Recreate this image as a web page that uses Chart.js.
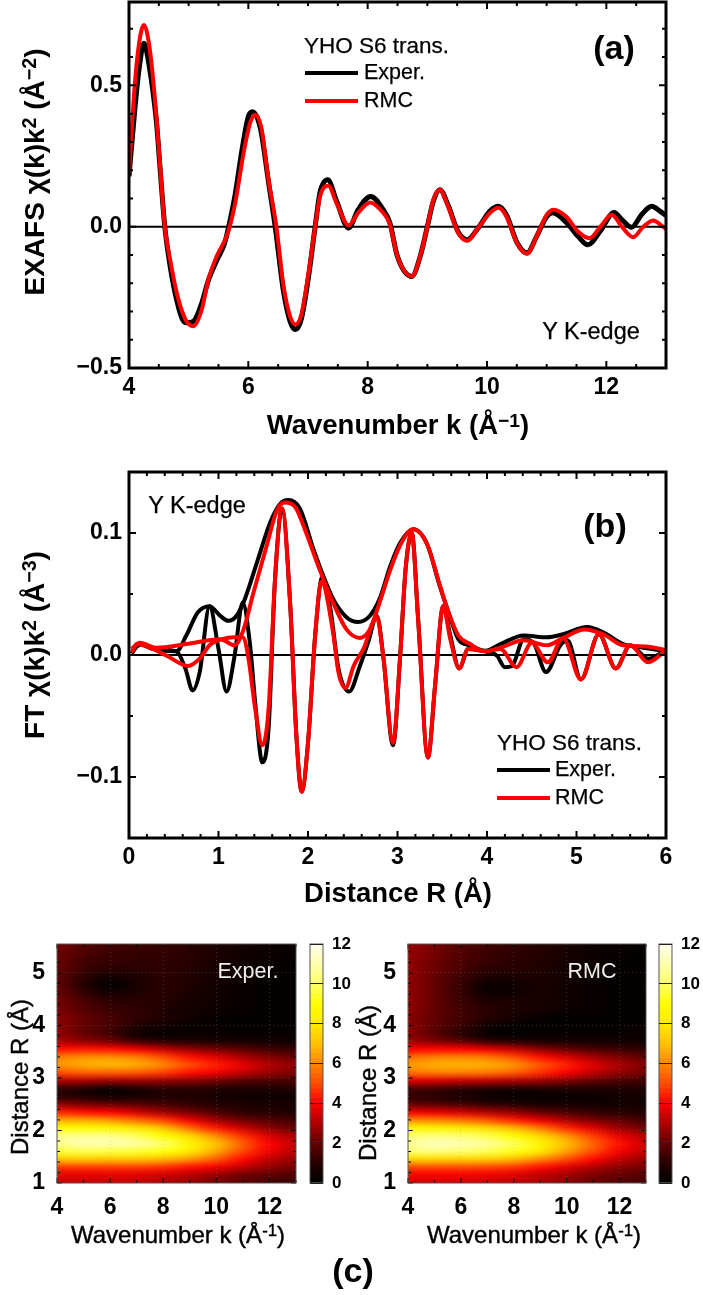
<!DOCTYPE html>
<html>
<head>
<meta charset="utf-8">
<title>YHO S6 EXAFS</title>
<script src="https://cdn.jsdelivr.net/npm/chart.js@4"></script>
<style>
  html, body { margin: 0; padding: 0; background: #fff; }
  #page { position: relative; width: 703px; height: 1295px; overflow: hidden; font-family: "Liberation Sans", sans-serif; color: #000; }
  #page canvas { position: absolute; }
  .txt { position: absolute; white-space: nowrap; line-height: 1; }
  .txt sup { font-size: 0.7em; line-height: 0; vertical-align: 0.4em; }
  .swatch { position: absolute; height: 4px; }
</style>
</head>
<body>
<div id="page"></div>
<script>
// (a) EXAFS
const exafsKExper = [4, 4.1, 4.17, 4.25, 4.33, 4.46, 4.53, 4.6, 4.69, 4.8, 4.9, 4.97, 5.08, 5.22, 5.33, 5.47, 5.6, 5.66, 5.78, 5.9, 6, 6.07, 6.15, 6.22, 6.33, 6.45, 6.59, 6.7, 6.79, 6.89, 7, 7.12, 7.2, 7.33, 7.48, 7.68, 7.84, 8.05, 8.26, 8.37, 8.5, 8.74, 8.88, 9, 9.1, 9.21, 9.35, 9.52, 9.67, 9.85, 10.05, 10.19, 10.33, 10.5, 10.67, 10.83, 11, 11.1, 11.33, 11.53, 11.69, 11.9, 12.13, 12.26, 12.42, 12.6, 12.76, 12.9, 13];
const exafsExper = [0.178, 0.42, 0.56, 0.649, 0.58, 0.37, 0.18, 0, -0.14, -0.26, -0.33, -0.34, -0.335, -0.27, -0.19, -0.12, -0.06, -0.01, 0.115, 0.28, 0.39, 0.407, 0.385, 0.33, 0.17, 0, -0.23, -0.335, -0.364, -0.325, -0.19, 0, 0.12, 0.166, 0.09, -0.005, 0.06, 0.107, 0.06, 0.015, -0.106, -0.176, -0.105, 0, 0.09, 0.131, 0.075, -0.02, -0.046, -0.005, 0.055, 0.072, 0.04, -0.055, -0.093, -0.035, 0.035, 0.049, 0.015, -0.035, -0.064, -0.015, 0.05, 0.025, -0.002, 0.045, 0.072, 0.055, 0.039];
const exafsKRmc = [4, 4.1, 4.17, 4.25, 4.35, 4.46, 4.53, 4.6, 4.69, 4.8, 4.95, 5.08, 5.22, 5.33, 5.47, 5.66, 5.78, 5.92, 6.03, 6.12, 6.22, 6.33, 6.47, 6.59, 6.7, 6.79, 6.89, 7, 7.12, 7.2, 7.34, 7.48, 7.68, 7.84, 8.04, 8.26, 8.37, 8.5, 8.74, 8.88, 9, 9.1, 9.21, 9.35, 9.52, 9.67, 9.85, 10.05, 10.19, 10.33, 10.5, 10.67, 10.83, 11, 11.12, 11.33, 11.53, 11.72, 11.9, 12.09, 12.26, 12.45, 12.62, 12.79, 12.92, 13];
const exafsRmc = [0.19, 0.51, 0.65, 0.714, 0.625, 0.39, 0.19, 0, -0.117, -0.234, -0.33, -0.352, -0.293, -0.187, -0.105, -0.02, 0.083, 0.26, 0.367, 0.396, 0.349, 0.177, 0, -0.21, -0.317, -0.346, -0.31, -0.176, 0, 0.106, 0.145, 0.083, 0.005, 0.049, 0.086, 0.049, 0.01, -0.106, -0.176, -0.105, 0, 0.095, 0.131, 0.071, -0.022, -0.05, -0.005, 0.049, 0.067, 0.035, -0.057, -0.096, -0.035, 0.042, 0.06, 0.035, -0.018, -0.041, 0, 0.042, 0, -0.037, 0, 0.022, 0.005, -0.008];

// (b) FT, magnitude and real part for both
const ftRMagExper = [0.03, 0.16, 0.27, 0.53, 0.64, 0.77, 0.9, 1.02, 1.11, 1.2, 1.3, 1.43, 1.58, 1.69, 1.78, 1.91, 2.06, 2.17, 2.28, 2.43, 2.56, 2.69, 2.8, 2.92, 3.03, 3.18, 3.33, 3.47, 3.57, 3.68, 3.81, 3.98, 4.15, 4.41, 4.67, 4.85, 5.12, 5.3, 5.52, 5.75, 6];
const ftMagExper = [0.005, 0.009, 0.005, 0.003, 0.016, 0.035, 0.04, 0.032, 0.028, 0.032, 0.047, 0.076, 0.109, 0.124, 0.127, 0.12, 0.087, 0.065, 0.046, 0.031, 0.027, 0.032, 0.046, 0.073, 0.092, 0.103, 0.091, 0.057, 0.035, 0.013, 0.0077, 0.0035, 0.009, 0.016, 0.0145, 0.017, 0.023, 0.0185, 0.009, 0.006, 0.003];
const ftRReExper = [0.03, 0.12, 0.27, 0.53, 0.63, 0.71, 0.79, 0.9, 1, 1.09, 1.18, 1.27, 1.35, 1.41, 1.49, 1.56, 1.63, 1.71, 1.8, 1.87, 1.93, 2, 2.08, 2.16, 2.25, 2.34, 2.46, 2.58, 2.67, 2.77, 2.84, 2.95, 3.03, 3.09, 3.16, 3.23, 3.34, 3.42, 3.51, 3.59, 3.69, 3.79, 3.98, 4.11, 4.2, 4.28, 4.41, 4.52, 4.66, 4.82, 4.9, 5.05, 5.25, 5.44, 5.6, 5.8, 6];
const ftReExper = [0.001, 0.009, 0.005, 0.003, -0.011, -0.029, -0.014, 0.04, 0.005, -0.03, -0.0005, 0.043, 0.01, -0.039, -0.088, -0.06, 0.06, 0.12, 0.043, -0.066, -0.112, -0.072, 0.016, 0.064, 0.038, -0.011, -0.03, -0.009, 0.01, 0.032, -0.0005, -0.074, -0.0005, 0.07, 0.1, 0.03, -0.084, -0.025, 0.04, 0.016, -0.011, 0.005, 0.003, -0.0005, -0.01, -0.009, 0.013, 0.01, -0.014, 0.008, 0.012, -0.02, 0.017, -0.011, 0.008, -0.003, 0.004];
const ftRMagRmc = [0.03, 0.12, 0.31, 0.64, 1.02, 1.18, 1.28, 1.39, 1.54, 1.65, 1.74, 1.85, 1.98, 2.13, 2.28, 2.43, 2.58, 2.69, 2.8, 2.92, 3.03, 3.17, 3.33, 3.47, 3.57, 3.68, 3.81, 3.98, 4.15, 4.41, 4.67, 4.85, 5.09, 5.3, 5.52, 5.78, 6];
const ftMagRmc = [0.005, 0.01, 0.006, 0.009, 0.013, 0.008, 0.021, 0.051, 0.09, 0.118, 0.125, 0.122, 0.1, 0.07, 0.043, 0.021, 0.014, 0.021, 0.043, 0.07, 0.09, 0.103, 0.091, 0.058, 0.035, 0.016, 0.009, 0.003, 0.006, 0.012, 0.008, 0.014, 0.021, 0.017, 0.008, 0.007, 0.004];
const ftRReRmc = [0.03, 0.09, 0.23, 0.42, 0.66, 0.79, 0.9, 1.04, 1.18, 1.27, 1.33, 1.41, 1.49, 1.56, 1.63, 1.71, 1.8, 1.87, 1.93, 2, 2.08, 2.15, 2.28, 2.34, 2.42, 2.51, 2.62, 2.77, 2.84, 2.95, 3.03, 3.09, 3.16, 3.23, 3.34, 3.42, 3.51, 3.59, 3.69, 3.79, 3.98, 4.15, 4.33, 4.5, 4.68, 4.85, 5.05, 5.25, 5.44, 5.6, 5.8, 6];
const ftReRmc = [0.002, 0.009, 0.006, -0.0005, -0.009, -0.003, 0.008, 0.013, 0.0145, 0.0145, -0.0005, -0.044, -0.074, -0.044, 0.06, 0.12, 0.043, -0.066, -0.112, -0.072, 0.016, 0.06, 0.0186, -0.014, -0.027, -0.009, 0.005, 0.031, -0.0005, -0.072, -0.0005, 0.07, 0.1, 0.03, -0.084, -0.025, 0.04, 0.013, -0.011, 0.005, 0.003, 0.005, -0.01, 0.01, -0.006, 0.014, -0.02, 0.017, -0.011, 0.008, -0.006, 0.004];

// (c) wavelet maps: one row per R, one column per k
const heatK = [4, 5, 6, 7, 8, 9, 10, 11, 12, 13];
const heatR = [1, 1.15, 1.3, 1.45, 1.6, 1.75, 1.9, 2.05, 2.2, 2.35, 2.5, 2.65, 2.8, 2.95, 3.1, 3.25, 3.4, 3.55, 3.7, 3.85, 4, 4.15, 4.3, 4.45, 4.6, 4.75, 4.9, 5.05, 5.2, 5.35, 5.5];
const heatExper = [
  [3.3, 3.3, 3.3, 3.3, 3.0, 2.7, 2.3, 1.9, 1.5, 1.3],
  [3.7, 3.7, 3.7, 3.6, 3.4, 3.1, 2.6, 2.1, 1.9, 1.6],
  [4.8, 4.8, 4.8, 4.8, 4.6, 4.2, 3.8, 3.2, 2.6, 2.2],
  [7.0, 7.1, 7.0, 7.0, 6.8, 6.2, 5.2, 4.1, 3.2, 2.6],
  [9.5, 9.7, 9.6, 9.5, 9.1, 8.0, 6.5, 4.9, 3.8, 3.1],
  [10.5, 11, 11, 10.8, 10, 8.5, 7, 5.3, 4.0, 3.2],
  [10.3, 10.5, 10.4, 9.8, 9, 7.5, 6, 4.6, 3.5, 2.8],
  [8.8, 8.8, 8.5, 7.8, 7, 5.5, 4.3, 3.3, 2.5, 2.0],
  [6.5, 6.5, 6.2, 5.5, 4.8, 3.8, 2.8, 2.1, 1.7, 1.4],
  [4.5, 4.2, 4, 3.4, 2.8, 2.2, 1.6, 1.1, 0.9, 0.8],
  [2.6, 2.3, 2, 1.8, 1.5, 1.2, 0.9, 0.7, 0.6, 0.6],
  [1.1, 0.8, 0.5, 0.6, 0.8, 0.8, 0.6, 0.4, 0.3, 0.4],
  [1.3, 0.9, 0.4, 0.8, 1.1, 1.1, 0.9, 0.8, 0.8, 0.9],
  [3.0, 3, 2.8, 2.8, 2.7, 2.5, 2.2, 1.8, 1.6, 1.5],
  [5.0, 5.3, 5.3, 5.2, 4.8, 4.2, 3.8, 3.2, 2.7, 2.3],
  [6.2, 6.6, 6.8, 6.6, 6, 5, 4.4, 3.7, 3, 2.6],
  [5.8, 6.1, 6.1, 5.8, 5, 4.2, 3.6, 2.9, 2.4, 2],
  [4.2, 4.3, 4.2, 3.8, 3.2, 2.6, 2.2, 1.8, 1.4, 1.2],
  [3, 2.6, 2.2, 1.4, 1.0, 0.8, 0.7, 0.6, 0.5, 0.4],
  [2.6, 2.0, 1.4, 0.4, 0.15, 0.3, 0.3, 0.2, 0.2, 0.2],
  [2.5, 2.0, 1.5, 0.9, 0.5, 0.2, 0.1, 0.1, 0.1, 0.1],
  [2.5, 2, 1.5, 1.1, 0.8, 0.4, 0.2, 0.1, 0.1, 0.1],
  [2.3, 1.7, 1.3, 1.1, 0.8, 0.5, 0.3, 0.2, 0.1, 0.1],
  [2.2, 1.6, 1.1, 1.0, 0.9, 0.6, 0.4, 0.2, 0.1, 0.1],
  [2.1, 1.2, 0.6, 0.8, 1, 0.7, 0.4, 0.2, 0.1, 0.1],
  [2.0, 0.9, 0.1, 0.6, 1, 0.8, 0.4, 0.2, 0.1, 0.1],
  [2.0, 1, 0.4, 0.7, 1.0, 0.8, 0.5, 0.3, 0.1, 0.1],
  [2.0, 1.3, 1, 1, 1.1, 0.9, 0.6, 0.3, 0.2, 0.1],
  [2.1, 1.4, 1.2, 1.1, 1.1, 0.9, 0.6, 0.4, 0.2, 0.1],
  [2.1, 1.6, 1.3, 1.2, 1.2, 1, 0.7, 0.4, 0.3, 0.2],
  [2.2, 1.7, 1.4, 1.3, 1.2, 1, 0.7, 0.5, 0.3, 0.2],
];
const heatRmc = [
  [3.4, 3.4, 3.4, 3.3, 3.2, 3.0, 2.5, 2.1, 1.7, 1.5],
  [3.9, 3.9, 3.9, 3.8, 3.6, 3.2, 2.8, 2.3, 2.0, 1.7],
  [5, 5, 5, 4.9, 4.7, 4.2, 3.6, 3, 2.5, 2.2],
  [7.4, 7.4, 7.3, 7.2, 6.8, 6, 5, 4.1, 3.2, 2.7],
  [10, 10.2, 10, 9.8, 9.2, 7.9, 6.4, 5.0, 3.9, 3.2],
  [10.6, 11.2, 11, 10.6, 9.8, 8.4, 6.9, 5.4, 4.2, 3.4],
  [10, 10.2, 10, 9.7, 8.8, 7.5, 6.2, 4.8, 3.7, 3.0],
  [8.4, 8.4, 8, 7.5, 6.8, 5.7, 4.5, 3.6, 2.7, 2.2],
  [6, 5.9, 5.6, 5.1, 4.4, 3.7, 2.9, 2.3, 1.9, 1.5],
  [3.8, 3.7, 3.4, 3, 2.6, 2, 1.6, 1.2, 1, 0.9],
  [2, 1.8, 1.5, 1.2, 0.9, 0.7, 0.6, 0.5, 0.5, 0.5],
  [1.2, 1, 0.7, 0.3, 0.2, 0.2, 0.2, 0.3, 0.4, 0.5],
  [1.7, 1.5, 1.2, 1, 0.8, 0.9, 0.9, 0.8, 0.8, 0.9],
  [3.6, 3.5, 3.3, 3.2, 3, 2.8, 2.4, 2, 1.6, 1.4],
  [5.6, 5.8, 5.8, 5.7, 5.3, 4.6, 3.9, 3.2, 2.6, 2.2],
  [6.3, 6.6, 6.7, 6.6, 6.2, 5.2, 4.4, 3.6, 2.9, 2.4],
  [5.5, 5.8, 5.9, 5.7, 5, 4.2, 3.5, 2.8, 2.3, 1.9],
  [4, 4.1, 4, 3.7, 3.2, 2.5, 2, 1.6, 1.3, 1.1],
  [2.8, 2.4, 1.9, 1.2, 0.9, 0.7, 0.6, 0.5, 0.5, 0.4],
  [2.5, 1.8, 1, 0.2, 0.1, 0.1, 0.2, 0.2, 0.2, 0.3],
  [2.5, 1.9, 1.3, 0.5, 0.15, 0.1, 0.1, 0.1, 0.1, 0.2],
  [2.5, 1.9, 1.4, 0.9, 0.5, 0.2, 0.1, 0.1, 0.1, 0.1],
  [2.6, 2, 1.4, 1, 0.7, 0.5, 0.3, 0.2, 0.1, 0.1],
  [2.6, 2, 1.3, 0.8, 0.7, 0.6, 0.4, 0.2, 0.1, 0.1],
  [2.6, 2, 1.2, 0.4, 0.4, 0.6, 0.4, 0.2, 0.1, 0.1],
  [2.6, 2, 1.2, 0.2, 0.3, 0.6, 0.4, 0.2, 0.1, 0.1],
  [2.6, 2, 1.3, 0.7, 0.6, 0.7, 0.5, 0.2, 0.1, 0.1],
  [2.6, 2.1, 1.5, 1.0, 0.9, 0.8, 0.5, 0.3, 0.1, 0.1],
  [2.6, 2.1, 1.6, 1.2, 1, 0.8, 0.5, 0.3, 0.1, 0.1],
  [2.7, 2.2, 1.7, 1.3, 1.1, 0.9, 0.6, 0.3, 0.2, 0.1],
  [2.7, 2.2, 1.7, 1.4, 1.2, 0.9, 0.6, 0.3, 0.2, 0.1],
];

// colour bar levels and the colours read at them
const cbarLevels = [0, 1, 2, 3, 4, 5, 6, 7, 8, 9, 10, 11, 12];
const cbarColors = [[0, 0, 0], [40, 0, 0], [100, 0, 0], [175, 0, 0], [255, 0, 0], [255, 75, 0], [255, 135, 0], [255, 195, 0], [255, 235, 0], [255, 255, 0], [255, 255, 110], [255, 255, 175], [255, 255, 240]];
const cbarTicks = [0, 2, 4, 6, 8, 10, 12];

// axis ticks
const kTicks = [4, 6, 8, 10, 12];
const kMinor = [4.5, 5, 5.5, 6.5, 7, 7.5, 8.5, 9, 9.5, 10.5, 11, 11.5, 12.5];
const exafsTicks = [-0.5, 0, 0.5];
const exafsMinor = [-0.4, -0.3, -0.2, -0.1, 0.1, 0.2, 0.3, 0.4, 0.6, 0.7];
const rTicks = [0, 1, 2, 3, 4, 5, 6];
const rMinor = [0.2, 0.4, 0.6, 0.8, 1.2, 1.4, 1.6, 1.8, 2.2, 2.4, 2.6, 2.8, 3.2, 3.4, 3.6, 3.8, 4.2, 4.4, 4.6, 4.8, 5.2, 5.4, 5.6, 5.8];
const ftTicks = [-0.1, 0, 0.1];
const ftMinor = [-0.05, 0.05];
const heatRTicks = [1, 2, 3, 4, 5];
const heatRMinor = [1.2, 1.4, 1.6, 1.8, 2.2, 2.4, 2.6, 2.8, 3.2, 3.4, 3.6, 3.8, 4.2, 4.4, 4.6, 4.8, 5.2, 5.4];
const heatKMinor = [5, 7, 9, 11, 13];

const FONT = '"Liberation Sans", sans-serif';
const page = document.getElementById('page');
const xy = (xs, ys) => xs.map((x, i) => ({ x, y: ys[i] }));

function addCanvas(left, top, width, height) {
  const c = document.createElement('canvas');
  c.width = width;
  c.height = height;
  c.style.left = left + 'px';
  c.style.top = top + 'px';
  page.appendChild(c);
  return c;
}

// cx,cy is the centre of the text unless anchor is 'left'
function addText(html, cx, cy, css, anchor) {
  const d = document.createElement('div');
  d.className = 'txt';
  d.innerHTML = html;
  d.style.cssText = `left:${cx}px;top:${cy}px;${css}`;
  d.style.transform = (anchor === 'left' ? 'translate(0,-50%)' : 'translate(-50%,-50%)') + (anchor === 'rot' ? ' rotate(-90deg)' : '');
  page.appendChild(d);
}

function addSwatch(left, top, width, color) {
  const d = document.createElement('div');
  d.className = 'swatch';
  d.style.cssText = `left:${left}px;top:${top}px;width:${width}px;background:${color}`;
  page.appendChild(d);
}

// frame and inward ticks on all four sides
const framePlugin = {
  id: 'frame',
  afterDatasetsDraw(chart, args, opts) {
    const { ctx, chartArea: a, scales } = chart;
    const xs = scales.x, ys = scales.y;
    ctx.save();
    ctx.strokeStyle = '#000';
    const tick = (v, isX, len, w) => {
      ctx.lineWidth = w;
      ctx.beginPath();
      if (isX) {
        const p = xs.getPixelForValue(v);
        ctx.moveTo(p, a.bottom); ctx.lineTo(p, a.bottom - len);
        ctx.moveTo(p, a.top); ctx.lineTo(p, a.top + len);
      } else {
        const p = ys.getPixelForValue(v);
        ctx.moveTo(a.left, p); ctx.lineTo(a.left + len, p);
        ctx.moveTo(a.right, p); ctx.lineTo(a.right - len, p);
      }
      ctx.stroke();
    };
    const w = opts.tickWidth;
    opts.xMajor.forEach(v => tick(v, true, opts.majorLen, w));
    opts.xMinor.forEach(v => tick(v, true, opts.minorLen, w));
    opts.yMajor.forEach(v => tick(v, false, opts.majorLen, w));
    opts.yMinor.forEach(v => tick(v, false, opts.minorLen, w));
    ctx.strokeStyle = opts.color;
    ctx.lineWidth = opts.width;
    ctx.strokeRect(a.left, a.top, a.right - a.left, a.bottom - a.top);
    ctx.restore();
  }
};

function cmap(v) {
  const t = Math.max(0, Math.min(cbarLevels.length - 1.001, v));
  const i = Math.floor(t), f = t - i;
  return cbarColors[i].map((c, n) => c + (cbarColors[i + 1][n] - c) * f);
}

// paints the k,R grid through the chart's scales, smoothed by the canvas
const heatPlugin = {
  id: 'heat',
  beforeDatasetsDraw(chart, args, opts) {
    const { ctx, chartArea: a, scales } = chart;
    const rows = heatR.length, cols = heatK.length;
    const off = document.createElement('canvas');
    off.width = cols;
    off.height = rows;
    const octx = off.getContext('2d');
    const img = octx.createImageData(cols, rows);
    heatR.forEach((r, j) => heatK.forEach((k, i) => {
      const c = cmap(opts.grid[rows - 1 - j][i]);
      const o = (j * cols + i) * 4;
      img.data[o] = c[0]; img.data[o + 1] = c[1]; img.data[o + 2] = c[2]; img.data[o + 3] = 255;
    }));
    octx.putImageData(img, 0, 0);
    const dk = heatK[1] - heatK[0], dr = heatR[1] - heatR[0];
    const x0 = scales.x.getPixelForValue(heatK[0] - dk / 2);
    const x1 = scales.x.getPixelForValue(heatK[cols - 1] + dk / 2);
    const y0 = scales.y.getPixelForValue(heatR[rows - 1] + dr / 2);
    const y1 = scales.y.getPixelForValue(heatR[0] - dr / 2);
    ctx.save();
    ctx.beginPath();
    ctx.rect(a.left, a.top, a.right - a.left, a.bottom - a.top);
    ctx.clip();
    ctx.imageSmoothingEnabled = true;
    ctx.imageSmoothingQuality = 'high';
    ctx.drawImage(off, x0, y0, x1 - x0, y1 - y0);
    ctx.restore();
  }
};

function scaleOpts(min, max, ticks, fmt, size, pad, fit) {
  return {
    type: 'linear',
    min, max,
    grid: { display: false, drawTicks: false },
    border: { display: false },
    afterBuildTicks: s => { s.ticks = ticks.map(value => ({ value })); },
    afterFit: s => {
      fit(s);
      // labels must not push the plot area around
      s.paddingTop = s.paddingBottom = s.paddingLeft = s.paddingRight = 0;
    },
    ticks: {
      autoSkip: false,
      maxRotation: 0,
      padding: pad,
      color: '#000',
      font: { family: FONT, size, weight: 'bold' },
      callback: fmt
    }
  };
}

const fmt1 = v => (v < 0 ? '\u2212' : '') + Math.abs(v).toFixed(1);
const fmt0 = v => String(v);

function curve(label, data, color, width) {
  return { label, data, borderColor: color, borderWidth: width, pointRadius: 0, showLine: true, cubicInterpolationMode: 'monotone', fill: false };
}

function lineChart(canvas, datasets, xo, yo, padding, frame) {
  return new Chart(canvas, {
    type: 'scatter',
    data: { datasets },
    options: {
      responsive: false,
      animation: false,
      events: [],
      layout: { padding },
      scales: { x: xo, y: yo },
      plugins: { legend: { display: false }, tooltip: { enabled: false }, frame }
    },
    plugins: [framePlugin]
  });
}

// panel (a)
lineChart(addCanvas(0, 0, 703, 440), [
  curve('RMC', xy(exafsKRmc, exafsRmc), '#ff0000', 4),
  curve('Exper.', xy(exafsKExper, exafsExper), '#000', 5),
  curve('zero', xy([4, 13], [0, 0]), '#000', 2)
],
  scaleOpts(4, 13, kTicks, fmt0, 23, 6, s => { s.height = 72; }),
  scaleOpts(-0.5, 0.795, exafsTicks, fmt1, 23, 7, s => { s.width = 129; }),
  { top: 2, right: 37, bottom: 0, left: 0 },
  { xMajor: kTicks, xMinor: kMinor, yMajor: exafsTicks, yMinor: exafsMinor, majorLen: 7, minorLen: 4, tickWidth: 2, color: '#000', width: 3 });

// panel (b)
lineChart(addCanvas(0, 440, 703, 460), [
  curve('RMC re', xy(ftRReRmc, ftReRmc), '#ff0000', 4),
  curve('RMC mag', xy(ftRMagRmc, ftMagRmc), '#ff0000', 4),
  curve('Exper. re', xy(ftRReExper, ftReExper), '#000', 4),
  curve('Exper. mag', xy(ftRMagExper, ftMagExper), '#000', 4),
  curve('zero', xy([0, 6], [0, 0]), '#000', 2)
],
  scaleOpts(0, 6, rTicks, fmt0, 23, 6, s => { s.height = 62; }),
  scaleOpts(-0.15, 0.15, ftTicks, fmt1, 23, 7, s => { s.width = 129; }),
  { top: 32, right: 37, bottom: 0, left: 0 },
  { xMajor: rTicks, xMinor: rMinor, yMajor: ftTicks, yMinor: ftMinor, majorLen: 7, minorLen: 4, tickWidth: 2, color: '#000', width: 3 });

// panel (c) maps
function heatChart(left, width, pad, grid) {
  const xo = scaleOpts(4, 13, kTicks, fmt0, 23, 11, s => { s.height = 77; });
  const yo = scaleOpts(1, 5.55, heatRTicks, fmt0, 23, 12, s => { s.width = pad.left; });
  const gridLine = { display: true, drawTicks: false, z: 1, color: 'rgba(150,150,150,0.3)', lineWidth: 1 };
  xo.grid = gridLine;
  yo.grid = gridLine;
  xo.border = { display: false, dash: [1, 3] };
  yo.border = { display: false, dash: [1, 3] };
  return new Chart(addCanvas(left, 930, width, 330), {
    type: 'scatter',
    data: { datasets: [] },
    options: {
      responsive: false,
      animation: false,
      events: [],
      layout: { padding: { top: 14, right: pad.right, bottom: 0, left: 0 } },
      scales: { x: xo, y: yo },
      plugins: {
        legend: { display: false },
        tooltip: { enabled: false },
        heat: { grid },
        frame: { xMajor: kTicks, xMinor: heatKMinor, yMajor: heatRTicks, yMinor: heatRMinor, majorLen: 5, minorLen: 3, tickWidth: 1, color: '#555', width: 1 }
      }
    },
    plugins: [heatPlugin, framePlugin]
  });
}

// colour bar: one floating bar per small step between the read levels
function colorBar(left) {
  const steps = [];
  cbarLevels.slice(0, -1).forEach(lo => {
    [0, 0.25, 0.5, 0.75].forEach(f => steps.push(lo + f));
  });
  const datasets = steps.map(v => {
    const c = cmap(v + 0.125);
    return { data: [[v, v + 0.25]], backgroundColor: `rgb(${c[0]},${c[1]},${c[2]})`, borderWidth: 0, barPercentage: 1, categoryPercentage: 1, grouped: false };
  });
  const yo = scaleOpts(0, 12, cbarTicks, fmt0, 17, 9, s => { s.width = 32; });
  yo.position = 'right';
  yo.grid = { display: true, drawTicks: false, z: 1, color: '#222', lineWidth: 1 };
  return new Chart(addCanvas(left, 930, 50, 330), {
    type: 'bar',
    data: { labels: ['c'], datasets },
    options: {
      responsive: false,
      animation: false,
      events: [],
      layout: { padding: { top: 14, right: 0, bottom: 77, left: 5 } },
      scales: { x: { display: false }, y: yo },
      plugins: {
        legend: { display: false },
        tooltip: { enabled: false },
        frame: { xMajor: [], xMinor: [], yMajor: [], yMinor: [], majorLen: 0, minorLen: 0, tickWidth: 1, color: '#555', width: 1 }
      }
    },
    plugins: [framePlugin]
  });
}

heatChart(0, 305, { left: 57, right: 9 }, heatExper);
colorBar(305);
heatChart(352, 305, { left: 56, right: 11 }, heatRmc);
colorBar(654);

// axis titles and notes
const TITLE = 'font-weight:bold;font-size:27.5px;';
const YTITLE = 'font-weight:bold;font-size:28px;';
const SMALLT = 'font-size:24px;-webkit-text-stroke:0.4px #000;';
const NOTE = 'font-size:21.5px;-webkit-text-stroke:0.25px #000;';
const HEAD = 'font-size:22.5px;-webkit-text-stroke:0.25px #000;';
const EDGE = 'font-size:23.5px;-webkit-text-stroke:0.25px #000;';
const MAPNOTE = 'font-size:21.5px;color:#eee;';
const LETTER = 'font-weight:bold;font-size:34px;';

addText('Wavenumber k (Å<sup>−1</sup>)', 398, 425, TITLE);
addText('EXAFS χ(k)k<sup>2</sup> (Å<sup>−2</sup>)', 35, 172, YTITLE, 'rot');
addText('YHO S6 trans.', 304, 46, HEAD, 'left');
addSwatch(305, 71, 53, '#000');
addText('Exper.', 364, 73, NOTE, 'left');
addSwatch(305, 99, 53, '#ff0000');
addText('RMC', 364, 101, NOTE, 'left');
addText('Y K-edge', 591, 332, EDGE);
addText('(a)', 614, 47, LETTER);

addText('Distance R (Å)', 398, 893, TITLE);
addText('FT χ(k)k<sup>2</sup> (Å<sup>−3</sup>)', 35, 645, YTITLE, 'rot');
addText('YHO S6 trans.', 497, 743, HEAD, 'left');
addSwatch(497, 768, 53, '#000');
addText('Exper.', 555, 770, NOTE, 'left');
addSwatch(497, 796, 53, '#ff0000');
addText('RMC', 555, 798, NOTE, 'left');
addText('Y K-edge', 197, 506, EDGE);
addText('(b)', 605, 525, LETTER);

addText('Wavenumber k (Å<sup>-1</sup>)', 178, 1235, SMALLT);
addText('Distance R (Å)', 20, 1077, SMALLT, 'rot');
addText('Exper.', 248, 972, MAPNOTE);
addText('Wavenumber k (Å<sup>-1</sup>)', 534, 1235, SMALLT);
addText('Distance R (Å)', 368, 1083, SMALLT, 'rot');
addText('RMC', 592, 972, MAPNOTE);
addText('(c)', 353, 1270, LETTER);
</script>
</body>
</html>
